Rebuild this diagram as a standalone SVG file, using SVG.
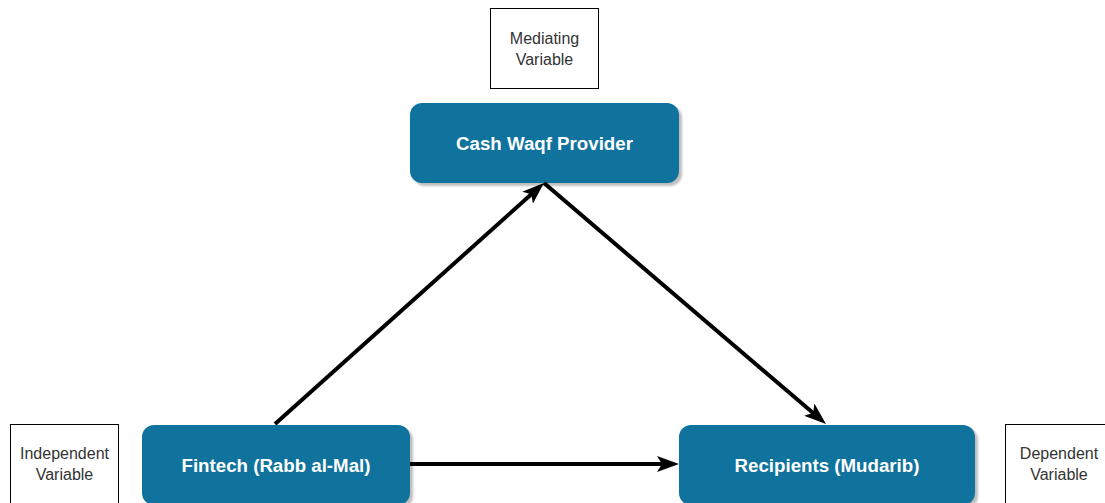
<svg xmlns="http://www.w3.org/2000/svg" width="1105" height="503" viewBox="0 0 1105 503">
  <style>
    .node { fill: #10739e; }
    .shadow { fill: #000; opacity: 0.25; }
    .title { font-family: "Liberation Sans", Arial, sans-serif; font-weight: bold; font-size: 18.7px; fill: #ffffff; text-anchor: middle; }
    .note { fill: #ffffff; stroke: #000000; stroke-width: 1; }
    .note-text { font-family: "Liberation Sans", Arial, sans-serif; font-size: 16px; fill: #333333; text-anchor: middle; }
    .edge { stroke: #000000; stroke-width: 4; fill: none; }
  </style>
  <defs>
    <filter id="soft" x="-10%" y="-10%" width="120%" height="130%">
      <feGaussianBlur stdDeviation="1"/>
    </filter>
    <marker id="arrow" viewBox="0 0 22 16" refX="14" refY="8" markerWidth="22" markerHeight="16" markerUnits="userSpaceOnUse" orient="auto">
      <path d="M0,0 L22,8 L0,16 L5,8 Z" fill="#000000"/>
    </marker>
  </defs>
  <rect width="1105" height="503" fill="#ffffff"/>

  <!-- variable labels -->
  <g id="label-mediating">
    <rect class="note" x="490.5" y="8.5" width="108" height="80"/>
    <text class="note-text" x="544.5" y="44">Mediating</text>
    <text class="note-text" x="544.5" y="65">Variable</text>
  </g>
  <g id="label-independent">
    <rect class="note" x="10.5" y="424.5" width="108" height="80"/>
    <text class="note-text" x="64.5" y="459">Independent</text>
    <text class="note-text" x="64.5" y="480">Variable</text>
  </g>
  <g id="label-dependent">
    <rect class="note" x="1005.5" y="424.5" width="108" height="80"/>
    <text class="note-text" x="1059" y="459">Dependent</text>
    <text class="note-text" x="1059" y="480">Variable</text>
  </g>

  <!-- main nodes -->
  <g id="node-cash-waqf">
    <rect class="shadow" x="413" y="106" width="269" height="80" rx="12" filter="url(#soft)"/>
    <rect class="node" x="410" y="103" width="269" height="80" rx="12"/>
    <text class="title" x="544.5" y="150">Cash Waqf Provider</text>
  </g>
  <g id="node-fintech">
    <rect class="shadow" x="145" y="428" width="268" height="80" rx="12" filter="url(#soft)"/>
    <rect class="node" x="142" y="425" width="268" height="80" rx="12"/>
    <text class="title" x="276" y="472">Fintech (Rabb al-Mal)</text>
  </g>
  <g id="node-recipients">
    <rect class="shadow" x="682" y="428" width="296" height="80" rx="12" filter="url(#soft)"/>
    <rect class="node" x="679" y="425" width="296" height="80" rx="12"/>
    <text class="title" x="827" y="472">Recipients (Mudarib)</text>
  </g>

  <!-- connectors -->
  <g id="edges">
    <line class="edge" x1="275" y1="424" x2="538" y2="188.3" marker-end="url(#arrow)"/>
    <line class="edge" x1="544" y1="183" x2="819.9" y2="418.8" marker-end="url(#arrow)"/>
    <line class="edge" x1="410" y1="464" x2="671" y2="464" marker-end="url(#arrow)"/>
  </g>
</svg>
